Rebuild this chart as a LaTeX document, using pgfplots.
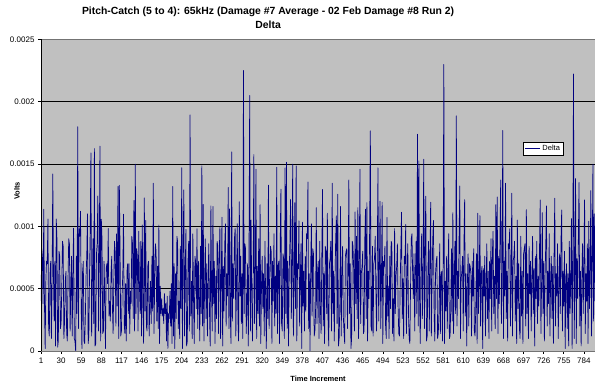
\documentclass[border=0pt]{standalone}
\usepackage{fontspec}
\setmainfont{Liberation Sans}
\usepackage{pgfplots}
\usepackage{pgfplotstable}
\pgfplotsset{compat=1.18}

\definecolor{plotbg}{RGB}{192,192,192}
\definecolor{deltablue}{RGB}{0,0,128}

% Delta in microvolts, time increments 1..800 (20 per line)
\pgfplotstableread[row sep=\\]{
v\\
400\\ 820\\ 760\\ 380\\ 1137\\ 380\\ 20\\ 560\\ 720\\ 700\\ 1059\\ 180\\ 120\\ 620\\ 720\\ 100\\ 520\\ 1420\\ 600\\ 240\\
720\\ 40\\ 1059\\ 900\\ 30\\ 80\\ 800\\ 760\\ 180\\ 220\\ 520\\ 880\\ 840\\ 100\\ 240\\ 560\\ 640\\ 140\\ 80\\ 580\\
900\\ 860\\ 160\\ 480\\ 760\\ 120\\ 620\\ 985\\ 100\\ 80\\ 0\\ 760\\ 300\\ 1798\\ 180\\ 980\\ 920\\ 1121\\ 360\\ 20\\
640\\ 720\\ 80\\ 60\\ 280\\ 600\\ 760\\ 1100\\ 60\\ 120\\ 620\\ 980\\ 1589\\ 120\\ 540\\ 900\\ 220\\ 1624\\ 40\\ 60\\
780\\ 860\\ 1244\\ 160\\ 700\\ 1643\\ 80\\ 1057\\ 900\\ 140\\ 160\\ 720\\ 420\\ 20\\ 660\\ 700\\ 540\\ 982\\ 280\\ 400\\
240\\ 620\\ 760\\ 360\\ 140\\ 560\\ 880\\ 800\\ 200\\ 940\\ 360\\ 1319\\ 100\\ 1329\\ 820\\ 120\\ 160\\ 460\\ 620\\ 1097\\
220\\ 140\\ 540\\ 80\\ 640\\ 700\\ 300\\ 700\\ 140\\ 480\\ 380\\ 920\\ 860\\ 260\\ 1207\\ 160\\ 1498\\ 300\\ 820\\ 760\\
160\\ 960\\ 520\\ 300\\ 880\\ 120\\ 1010\\ 440\\ 60\\ 1228\\ 320\\ 1047\\ 200\\ 160\\ 680\\ 720\\ 120\\ 380\\ 560\\ 220\\
760\\ 320\\ 1346\\ 140\\ 560\\ 860\\ 800\\ 240\\ 680\\ 180\\ 1010\\ 60\\ 520\\ 300\\ 420\\ 280\\ 340\\ 220\\ 460\\ 300\\
380\\ 80\\ 440\\ 20\\ 300\\ 260\\ 480\\ 200\\ 540\\ 60\\ 1319\\ 120\\ 700\\ 20\\ 620\\ 260\\ 920\\ 880\\ 180\\ 400\\
100\\ 840\\ 340\\ 1469\\ 20\\ 780\\ 1293\\ 120\\ 620\\ 975\\ 40\\ 80\\ 720\\ 880\\ 160\\ 1894\\ 280\\ 560\\ 100\\ 940\\
420\\ 60\\ 760\\ 720\\ 340\\ 980\\ 180\\ 720\\ 420\\ 80\\ 840\\ 300\\ 1485\\ 200\\ 1175\\ 80\\ 560\\ 900\\ 260\\ 700\\
120\\ 540\\ 860\\ 320\\ 40\\ 1164\\ 480\\ 160\\ 1159\\ 380\\ 720\\ 60\\ 600\\ 260\\ 880\\ 840\\ 140\\ 740\\ 993\\ 100\\
560\\ 1073\\ 40\\ 680\\ 320\\ 860\\ 1020\\ 200\\ 620\\ 440\\ 1311\\ 180\\ 1140\\ 300\\ 60\\ 1597\\ 240\\ 700\\ 420\\ 900\\
985\\ 120\\ 560\\ 1020\\ 260\\ 80\\ 1197\\ 440\\ 760\\ 220\\ 620\\ 100\\ 2250\\ 300\\ 860\\ 820\\ 140\\ 380\\ 700\\ 40\\
780\\ 2049\\ 160\\ 1050\\ 420\\ 80\\ 640\\ 1576\\ 220\\ 540\\ 1458\\ 100\\ 680\\ 300\\ 900\\ 200\\ 1174\\ 60\\ 520\\ 760\\
340\\ 620\\ 120\\ 880\\ 420\\ 20\\ 700\\ 260\\ 1330\\ 180\\ 560\\ 840\\ 800\\ 60\\ 720\\ 400\\ 940\\ 200\\ 600\\ 300\\
1474\\ 140\\ 680\\ 720\\ 60\\ 860\\ 1298\\ 220\\ 160\\ 780\\ 740\\ 100\\ 1469\\ 300\\ 1514\\ 180\\ 720\\ 40\\ 620\\ 880\\
1217\\ 260\\ 600\\ 1498\\ 120\\ 540\\ 1190\\ 340\\ 1485\\ 80\\ 700\\ 660\\ 1044\\ 200\\ 580\\ 860\\ 20\\ 1033\\ 360\\ 640\\
160\\ 760\\ 320\\ 940\\ 900\\ 1356\\ 180\\ 620\\ 0\\ 700\\ 1020\\ 280\\ 820\\ 780\\ 120\\ 160\\ 300\\ 1150\\ 220\\ 660\\
720\\ 100\\ 880\\ 340\\ 140\\ 760\\ 1296\\ 200\\ 620\\ 60\\ 840\\ 800\\ 300\\ 1105\\ 260\\ 40\\ 700\\ 740\\ 880\\ 160\\
1346\\ 300\\ 640\\ 80\\ 560\\ 900\\ 1084\\ 220\\ 1257\\ 40\\ 100\\ 360\\ 1159\\ 120\\ 620\\ 840\\ 280\\ 160\\ 60\\ 760\\
800\\ 820\\ 180\\ 600\\ 1372\\ 300\\ 700\\ 20\\ 100\\ 880\\ 840\\ 640\\ 160\\ 1116\\ 380\\ 920\\ 260\\ 1150\\ 100\\ 700\\
1458\\ 220\\ 620\\ 680\\ 800\\ 140\\ 160\\ 900\\ 1137\\ 260\\ 1190\\ 80\\ 640\\ 420\\ 980\\ 1766\\ 200\\ 160\\ 840\\ 120\\
700\\ 740\\ 920\\ 460\\ 160\\ 760\\ 1469\\ 240\\ 620\\ 1201\\ 180\\ 560\\ 1193\\ 60\\ 720\\ 680\\ 840\\ 200\\ 100\\ 1070\\
280\\ 520\\ 100\\ 760\\ 340\\ 880\\ 860\\ 140\\ 420\\ 80\\ 982\\ 300\\ 600\\ 680\\ 860\\ 360\\ 140\\ 120\\ 520\\ 820\\
1113\\ 260\\ 580\\ 100\\ 760\\ 700\\ 1015\\ 140\\ 580\\ 860\\ 300\\ 100\\ 60\\ 520\\ 900\\ 940\\ 620\\ 420\\ 780\\ 160\\
620\\ 880\\ 300\\ 1739\\ 200\\ 1525\\ 420\\ 60\\ 700\\ 940\\ 260\\ 600\\ 1538\\ 180\\ 860\\ 1241\\ 80\\ 120\\ 640\\ 880\\
160\\ 720\\ 1193\\ 120\\ 560\\ 900\\ 1047\\ 300\\ 80\\ 620\\ 720\\ 760\\ 100\\ 140\\ 320\\ 860\\ 140\\ 600\\ 640\\ 80\\
700\\ 2298\\ 60\\ 560\\ 320\\ 760\\ 180\\ 620\\ 940\\ 100\\ 120\\ 360\\ 820\\ 240\\ 1110\\ 140\\ 560\\ 880\\ 300\\ 1886\\
200\\ 640\\ 420\\ 920\\ 1324\\ 100\\ 580\\ 640\\ 760\\ 160\\ 860\\ 1214\\ 280\\ 620\\ 40\\ 560\\ 780\\ 200\\ 700\\ 680\\
620\\ 120\\ 720\\ 440\\ 820\\ 160\\ 120\\ 320\\ 780\\ 60\\ 1105\\ 300\\ 540\\ 1086\\ 200\\ 620\\ 680\\ 20\\ 660\\ 440\\
760\\ 120\\ 540\\ 860\\ 260\\ 640\\ 100\\ 720\\ 420\\ 900\\ 160\\ 780\\ 960\\ 300\\ 600\\ 180\\ 1174\\ 420\\ 1236\\ 140\\
760\\ 380\\ 940\\ 1372\\ 220\\ 600\\ 1768\\ 100\\ 720\\ 440\\ 1346\\ 260\\ 640\\ 80\\ 860\\ 820\\ 980\\ 200\\ 560\\ 1265\\
120\\ 720\\ 760\\ 880\\ 240\\ 600\\ 60\\ 1050\\ 340\\ 700\\ 180\\ 100\\ 920\\ 280\\ 640\\ 60\\ 780\\ 820\\ 860\\ 200\\
1134\\ 300\\ 620\\ 100\\ 840\\ 460\\ 720\\ 160\\ 580\\ 920\\ 300\\ 660\\ 40\\ 760\\ 420\\ 880\\ 220\\ 600\\ 360\\ 820\\
1212\\ 140\\ 540\\ 1110\\ 300\\ 720\\ 80\\ 600\\ 860\\ 1164\\ 200\\ 640\\ 380\\ 940\\ 120\\ 580\\ 760\\ 260\\ 680\\ 60\\
780\\ 1225\\ 200\\ 620\\ 440\\ 860\\ 100\\ 540\\ 780\\ 300\\ 900\\ 1131\\ 160\\ 640\\ 360\\ 800\\ 20\\ 560\\ 700\\ 180\\
620\\ 40\\ 880\\ 300\\ 560\\ 1062\\ 20\\ 720\\ 2221\\ 100\\ 600\\ 1383\\ 60\\ 740\\ 420\\ 900\\ 1351\\ 200\\ 640\\ 40\\
560\\ 860\\ 300\\ 700\\ 1212\\ 140\\ 620\\ 400\\ 860\\ 60\\ 1041\\ 340\\ 640\\ 1287\\ 120\\ 700\\ 1498\\ 240\\ 1100\\ 400\\
}\deltatable

\begin{document}
\begin{tikzpicture}
\useasboundingbox (-41pt,-39pt) rectangle (554pt,351pt);
\begin{axis}[
    scale only axis,
    width=554pt, height=311.7pt,
    at={(0,0)}, anchor=south west,
    xmin=1, xmax=800,
    ymin=0, ymax=2500,
    xtick={1,30,...,784},
    ytick={0,500,...,2500},
    yticklabels={0,0.0005,0.001,0.0015,0.002,0.0025},
    /pgf/number format/assume math mode=true,
    tick label style={font=\fontsize{8}{9}\selectfont},
    tick align=outside,
    major tick length=3pt,
    xtick pos=left, ytick pos=left,
    tick style={black, line width=0.6pt},
    axis background/.style={fill=plotbg},
    axis line style={draw=black!55, line width=0.8pt},
    ymajorgrids,
    grid style={black, line width=0.6pt},
    title={Pitch-Catch (5 to 4): 65kHz (Damage \#7 Average - 02 Feb Damage \#8 Run 2)\\Delta},
    title style={at={(axis description cs:0.41,1)}, anchor=south, align=center,
                 font=\bfseries\fontsize{10.4}{14}\selectfont, yshift=1pt},
    xlabel={Time Increment},
    xlabel style={at={(axis description cs:0.5,0)}, anchor=center, yshift=-28pt,
                  font=\bfseries\fontsize{7.5}{9}\selectfont},
    ylabel={Volts},
    ylabel style={at={(axis description cs:0,0.513)}, anchor=center, yshift=24pt,
                  font=\bfseries\fontsize{7.5}{9}\selectfont},
    legend style={at={(axis description cs:0.870,0.670)}, anchor=north west,
                  font=\fontsize{7.5}{8.5}\selectfont, draw=black, fill=white,
                  inner xsep=1.5pt, inner ysep=1pt, row sep=-1pt},
    legend image code/.code={\draw[#1, line width=0.8pt] (0pt,0pt) -- (15pt,0pt);},
]
\addplot[deltablue, line width=0.7pt, line join=round] table[x expr=\coordindex+1, y=v] {\deltatable};
\addlegendentry{Delta}
\draw[black, line width=0.8pt] (rel axis cs:0,1) -- (rel axis cs:0,0) -- (rel axis cs:1,0);
\end{axis}
\end{tikzpicture}
\end{document}
